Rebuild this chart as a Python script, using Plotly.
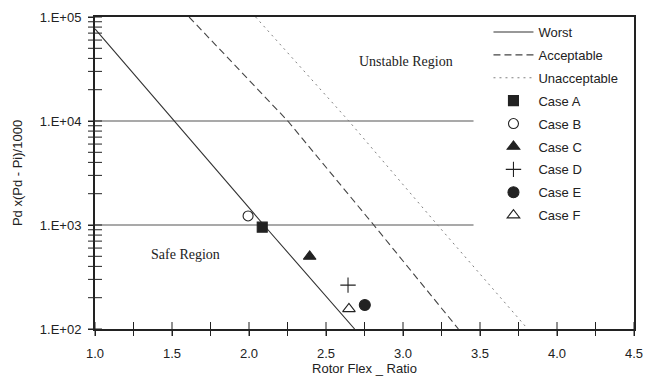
import math
import plotly.graph_objects as go

# ---- data ----
worst_x = [1.0, 1.514, 2.096, 2.686]
worst_y = [76800, 10000, 1000, 100]

accept_x = [1.611, 1.98, 2.252, 2.810, 3.360]
accept_y = [100000, 26500, 10000, 1000, 100]

unacc_x = [2.043, 2.648, 3.224, 3.810]
unacc_y = [100000, 10000, 1000, 100]

case_names = ["Case A", "Case B", "Case C", "Case D", "Case E", "Case F"]
case_x = [2.086, 1.994, 2.394, 2.643, 2.752, 2.649]
case_y = [953, 1222, 498, 264, 170, 156]
case_symbols = ["square", "circle-open", "triangle-up", "cross-thin-open",
                "circle", "triangle-up-open"]
case_sizes = [10, 10, 11, 11, 11, 11]

ref_levels = [1e4, 1e3]
ref_x_start = 1.0
ref_x_end = 3.458

x_range = [1.0, 4.5]
y_range_log = [2, 5]
y_tick_raw = ["100", "1000", "10,000", "100,000", "10000", "100000"]
y_ticktext = ["1.E+02", "1.E+03", "1.E+04", "1.E+05", "1.E+04", "1.E+05"]
x_minor_vals = [1.0, 1.25, 1.5, 1.75, 2.0, 2.25, 2.5, 2.75, 3.0,
                3.25, 3.5, 3.75, 4.0, 4.25, 4.5]
y_decades = [100, 1000, 10000]
y_minor_mult = [1, 2, 3, 4, 5, 6, 7, 8, 9]

regions = ["Unstable Region", "Safe Region"]
region_x = [3.018, 1.589]
region_y = [37000, 516]

INK = "#222222"
SANS = "Liberation Sans, Arial, sans-serif"
SERIF = "Liberation Serif, Times New Roman, serif"

fig = go.Figure()

fig.add_trace(go.Scatter(x=worst_x, y=worst_y, mode="lines", name="Worst",
                         line=dict(color="#333333", width=1.1), legendgroup="g1"))
fig.add_trace(go.Scatter(x=accept_x, y=accept_y, mode="lines", name="Acceptable",
                         line=dict(color="#444444", width=1.1, dash="7px,4px"),
                         legendgroup="g2"))
fig.add_trace(go.Scatter(x=unacc_x, y=unacc_y, mode="lines", name="Unacceptable",
                         line=dict(color="#808080", width=1.0, dash="2px,4px"),
                         legendgroup="g3"))

for i, nm in enumerate(case_names):
    fig.add_trace(go.Scatter(
        x=[case_x[i]], y=[case_y[i]], mode="markers", name=nm,
        legendgroup="c%d" % i,
        marker=dict(symbol=case_symbols[i], size=case_sizes[i], color=INK,
                    line=dict(color=INK, width=1.1)),
    ))

for lv in ref_levels:
    fig.add_shape(type="line", xref="x", yref="y", x0=ref_x_start, x1=ref_x_end,
                  y0=lv, y1=lv, line=dict(color="#555555", width=1.1), layer="below")

for t, xx, yy in zip(regions, region_x, region_y):
    fig.add_annotation(x=xx, y=math.log10(yy), yref="y", xref="x", text=t,
                       showarrow=False,
                       font=dict(family=SERIF, size=14, color=INK))

y_minor_vals = [d * m for d in y_decades for m in y_minor_mult] + [y_decades[-1] * 10]

fig.update_layout(
    width=652, height=386,
    margin=dict(l=95, r=9, t=17, b=57),
    paper_bgcolor="white", plot_bgcolor="white",
    font=dict(family=SANS, size=13, color=INK),
    showlegend=True,
    legend=dict(x=0.730, y=1.0, xanchor="left", yanchor="top",
                bgcolor="rgba(255,255,255,0)", borderwidth=0,
                font=dict(family=SANS, size=13, color=INK),
                tracegroupgap=3, itemwidth=40),
    xaxis=dict(range=x_range, tickmode="linear", tick0=1.0, dtick=0.5,
               tickformat=".1f",
               showgrid=False, zeroline=False, showline=True, linewidth=2,
               linecolor=INK, mirror=True, ticks="outside", ticklen=5,
               tickcolor=INK, tickwidth=1, ticklabelstandoff=6,
               tickfont=dict(family=SANS, size=13, color=INK),
               title=dict(text="Rotor Flex _ Ratio", standoff=0,
                          font=dict(family=SANS, size=13, color=INK))),
    yaxis=dict(type="log", range=y_range_log, dtick=1, exponentformat="none",
               labelalias=dict(zip(y_tick_raw, y_ticktext)),
               showgrid=False, zeroline=False, showline=True, linewidth=2,
               linecolor=INK, mirror=True, ticks="outside", ticklen=5,
               tickcolor=INK, tickwidth=1, ticklabelstandoff=4,
               tickfont=dict(family=SANS, size=13, color=INK),
               title=dict(text="Pd x(Pd - Pi)/1000", standoff=14,
                          font=dict(family=SANS, size=13, color=INK))),
)

# minor tick marks drawn as short line markers sitting on the axes
fig.add_trace(go.Scatter(
    x=x_minor_vals, y=[10 ** y_range_log[0]] * len(x_minor_vals),
    mode="markers", showlegend=False, hoverinfo="skip", cliponaxis=False,
    marker=dict(symbol="line-ns", size=10, line=dict(color=INK, width=1))))
fig.add_trace(go.Scatter(
    x=[x_range[0]] * len(y_minor_vals), y=y_minor_vals,
    mode="markers", showlegend=False, hoverinfo="skip", cliponaxis=False,
    marker=dict(symbol="line-ew", size=10, line=dict(color=INK, width=1))))

fig.write_html("out.html")
